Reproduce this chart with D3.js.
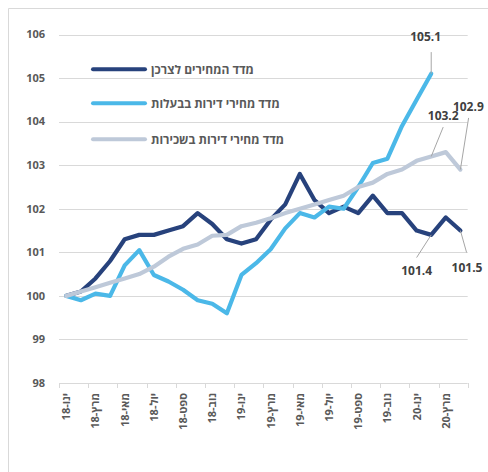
<!DOCTYPE html>
<html>
  <head>
    <meta charset="utf-8">
    <title>מדדי מחירים</title>
    <script src="https://cdn.jsdelivr.net/npm/d3@7"></script>
    <style>
      body { margin: 0; background: #fff; }
      svg { display: block; font-family: "Open Sans", "Liberation Sans", "DejaVu Sans", sans-serif; }
      .grid line { stroke: #d9d9d9; stroke-width: 1; }
      .tick-label { fill: #595959; font-size: 11px; font-weight: bold; }
      .legend text { fill: #595959; font-size: 12px; font-weight: bold; }
      .note { fill: #404040; font-size: 12px; font-weight: bold; }
    </style>
  </head>
  <body>
    <svg id="chart" width="488" height="472"></svg>
    <script>
      // months Jan 2018 .. Apr 2020
      var months = ["ינו-18", "פבר-18", "מרץ-18", "אפר-18", "מאי-18", "יונ-18", "יול-18", "אוג-18", "ספט-18", "אוק-18", "נוב-18", "דצמ-18",
                    "ינו-19", "פבר-19", "מרץ-19", "אפר-19", "מאי-19", "יונ-19", "יול-19", "אוג-19", "ספט-19", "אוק-19", "נוב-19", "דצמ-19",
                    "ינו-20", "פבר-20", "מרץ-20", "אפר-20"];
      var yTicks = [98, 99, 100, 101, 102, 103, 104, 105, 106];
      // consumer price index
      var cpi = [100, 100.1, 100.4, 100.8, 101.3, 101.4, 101.4, 101.5, 101.6, 101.9, 101.65, 101.3,
                 101.2, 101.3, 101.75, 102.1, 102.8, 102.2, 101.9, 102.05, 101.9, 102.3, 101.9, 101.9,
                 101.5, 101.4, 101.8, 101.5];
      // owner-occupied housing prices (ends Feb 2020)
      var ownHousing = [100, 99.9, 100.05, 100, 100.7, 101.05, 100.48, 100.33, 100.14, 99.9, 99.82, 99.6,
                        100.48, 100.75, 101.07, 101.55, 101.9, 101.8, 102.05, 102, 102.5, 103.05, 103.15, 103.9,
                        104.5, 105.1];
      // rent prices
      var rent = [100, 100.1, 100.2, 100.3, 100.4, 100.5, 100.67, 100.9, 101.08, 101.18, 101.38, 101.4,
                  101.6, 101.68, 101.78, 101.9, 102, 102.1, 102.2, 102.3, 102.5, 102.6, 102.8, 102.9,
                  103.1, 103.2, 103.3, 102.9];
      var seriesNames = ["מדד המחירים לצרכן", "מדד מחירי דירות בבעלות", "מדד מחירי דירות בשכירות"];
      var seriesColors = ["#27427c", "#4bb8e8", "#bec9d9"];

      var svg = d3.select("#chart");
      var plotLeft = 59, plotRight = 467.7, plotTop = 34.5, plotBottom = 383;

      // outer frame (top and left edges visible)
      svg.append("path")
        .attr("d", "M8.5,472V8.5H488")
        .attr("fill", "none")
        .attr("stroke", "#d9d9d9");

      var x = d3.scaleBand().domain(months).range([plotLeft, plotRight]).padding(0);
      var y = d3.scaleLinear().domain([98, 106]).range([plotBottom, plotTop]);
      var cx = function(i) { return x(months[i]) + x.bandwidth() / 2; };

      // gridlines
      svg.append("g").attr("class", "grid")
        .selectAll("line")
        .data(yTicks.slice(1))
        .enter().append("line")
          .attr("x1", plotLeft).attr("x2", plotRight)
          .attr("y1", function(d) { return Math.round(y(d)) + .5; })
          .attr("y2", function(d) { return Math.round(y(d)) + .5; });

      // y labels
      svg.append("g")
        .selectAll("text")
        .data(yTicks)
        .enter().append("text")
          .attr("class", "tick-label")
          .attr("x", 45)
          .attr("y", function(d) { return y(d); })
          .attr("dy", "0.35em")
          .attr("text-anchor", "end")
          .text(function(d) { return d; });

      // x axis line + ticks between every second category
      var xAxis = svg.append("g");
      xAxis.append("line")
        .attr("x1", plotLeft).attr("x2", plotRight)
        .attr("y1", Math.round(plotBottom) + .5).attr("y2", Math.round(plotBottom) + .5)
        .attr("stroke", "#d9d9d9");
      var tickIdx = d3.range(0, months.length + 1, 2);
      xAxis.selectAll(".tk")
        .data(tickIdx)
        .enter().append("line")
          .attr("x1", function(i) { return Math.round(i < months.length ? x(months[i]) : plotRight) + .5; })
          .attr("x2", function(i) { return Math.round(i < months.length ? x(months[i]) : plotRight) + .5; })
          .attr("y1", plotBottom).attr("y2", plotBottom + 5)
          .attr("stroke", "#d9d9d9");
      xAxis.selectAll(".lbl")
        .data(d3.range(0, months.length, 2))
        .enter().append("text")
          .attr("class", "tick-label")
          .attr("direction", "rtl")
          .attr("text-anchor", "start")
          .attr("transform", function(i) { return "translate(" + (cx(i) + 4) + "," + (plotBottom + 10) + ") rotate(-90)"; })
          .text(function(i) { return months[i]; });

      // lines
      var line = d3.line()
        .x(function(d, i) { return cx(i); })
        .y(function(d) { return y(d); });
      [cpi, ownHousing, rent].forEach(function(s, k) {
        svg.append("path")
          .datum(s)
          .attr("d", line)
          .attr("fill", "none")
          .attr("stroke", seriesColors[k])
          .attr("stroke-width", 4.2)
          .attr("stroke-linejoin", "round")
          .attr("stroke-linecap", "round");
      });

      // legend
      var legend = svg.append("g").attr("class", "legend");
      var legendY = [69.3, 103.3, 139.3];
      seriesNames.forEach(function(name, k) {
        legend.append("line")
          .attr("x1", 93).attr("x2", 145)
          .attr("y1", legendY[k]).attr("y2", legendY[k])
          .attr("stroke", seriesColors[k])
          .attr("stroke-width", 4)
          .attr("stroke-linecap", "round");
        legend.append("text")
          .attr("x", 151)
          .attr("y", legendY[k])
          .attr("dy", "0.35em")
          .text(name);
      });

      // data labels with leader lines
      var notes = [
        { s: ownHousing, i: 25, anchor: "middle", tx: -5.6, ty: -32.6, lx: 0, ly: -21.6 },
        { s: rent, i: 25, anchor: "middle", tx: 12, ty: -36.7, lx: 12, ly: -29.4 },
        { s: rent, i: 27, anchor: "start", tx: -7.5, ty: -58.3, lx: 8.2, ly: -51.6 },
        { s: cpi, i: 25, anchor: "middle", tx: -14.6, ty: 40, lx: -14.6, ly: 22.7 },
        { s: cpi, i: 27, anchor: "start", tx: -8.8, ty: 41, lx: 6.2, ly: 22 }
      ];
      notes.forEach(function(n) {
        var px = cx(n.i), py = y(n.s[n.i]);
        svg.append("line")
          .attr("x1", px + n.lx).attr("y1", py + n.ly)
          .attr("x2", px).attr("y2", py)
          .attr("stroke", "#a6a6a6")
          .attr("stroke-width", 1);
        svg.append("text")
          .attr("class", "note")
          .attr("x", px + n.tx)
          .attr("y", py + n.ty)
          .attr("text-anchor", n.anchor)
          .text(n.s[n.i].toFixed(1));
      });
    </script>
  </body>
</html>
